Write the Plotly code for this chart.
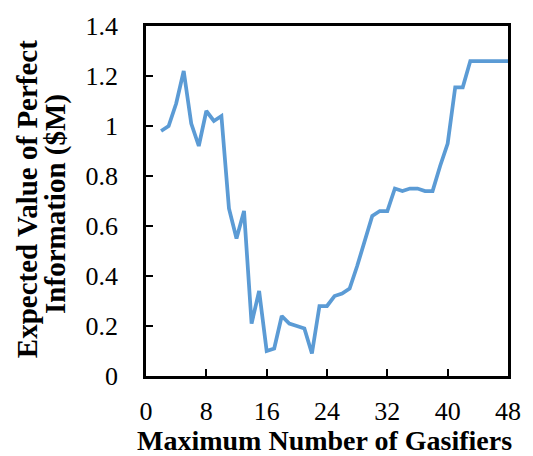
import plotly.graph_objects as go

max_gasifiers = list(range(2, 49))
evpi = [0.98, 1.00, 1.09, 1.22, 1.01, 0.92, 1.06, 1.02, 1.04,
        0.67, 0.55, 0.66, 0.21, 0.34, 0.10, 0.11, 0.24, 0.21, 0.20, 0.19,
        0.09, 0.28, 0.28, 0.32, 0.33, 0.35, 0.44, 0.54, 0.64, 0.66, 0.66,
        0.75, 0.74, 0.75, 0.75, 0.74, 0.74, 0.84, 0.93, 1.155, 1.155,
        1.26, 1.26, 1.26, 1.26, 1.26, 1.26]

x_ticks = [0, 8, 16, 24, 32, 40, 48]
y_ticks = [0, 0.2, 0.4, 0.6, 0.8, 1.0, 1.2, 1.4]

x_title = "Maximum Number of Gasifiers"
y_title_lines = ["Expected Value of Perfect", "Information ($M)"]

font = "Liberation Serif, Times New Roman, serif"

W, H = 533, 456
L, R, T, B = 146, 23, 16, 80
PW, PH = W - L - R, H - T - B

fig = go.Figure(go.Scatter(
    x=max_gasifiers, y=evpi, mode="lines",
    line=dict(color="#5B9BD5", width=3.75),
))

def px_to_paper_x(px):
    return (px - L) / PW

def px_to_paper_y(py):
    return (H - B - py) / PH

annotations = [
    dict(text="<b>" + x_title + "</b>", xref="paper", yref="paper",
         x=px_to_paper_x(325), y=px_to_paper_y(442), xanchor="center", yanchor="middle",
         showarrow=False, font=dict(family=font, size=28, color="black")),
    dict(text="<b>" + y_title_lines[0] + "</b>", xref="paper", yref="paper",
         x=px_to_paper_x(26.5), y=px_to_paper_y(194), xanchor="center", yanchor="middle",
         textangle=-90, showarrow=False, font=dict(family=font, size=29, color="black")),
    dict(text="<b>" + y_title_lines[1] + "</b>", xref="paper", yref="paper",
         x=px_to_paper_x(55.5), y=px_to_paper_y(199), xanchor="center", yanchor="middle",
         textangle=-90, showarrow=False, font=dict(family=font, size=29, color="black")),
]

fig.update_layout(
    width=W, height=H,
    margin=dict(l=L, r=R, t=T, b=B),
    paper_bgcolor="white", plot_bgcolor="white",
    showlegend=False,
    font=dict(family=font, size=26, color="black"),
    annotations=annotations,
)
fig.update_xaxes(
    range=[0, 48], tickvals=x_ticks, ticks="inside", ticklen=7, tickwidth=1.5,
    tickcolor="black", showline=True, linecolor="black", linewidth=2.5,
    mirror=True, showgrid=False, zeroline=False,
    tickfont=dict(family=font, size=26), ticklabelstandoff=10,
)
fig.update_yaxes(
    range=[0, 1.4], tickvals=y_ticks, ticks="inside", ticklen=7, tickwidth=1.5,
    tickcolor="black", showline=True, linecolor="black", linewidth=2.5,
    mirror=True, showgrid=False, zeroline=False,
    tickfont=dict(family=font, size=26), ticklabelstandoff=20,
)

fig.write_html("out.html", config={"displayModeBar": False},
               post_script="document.body.style.margin='0';")
